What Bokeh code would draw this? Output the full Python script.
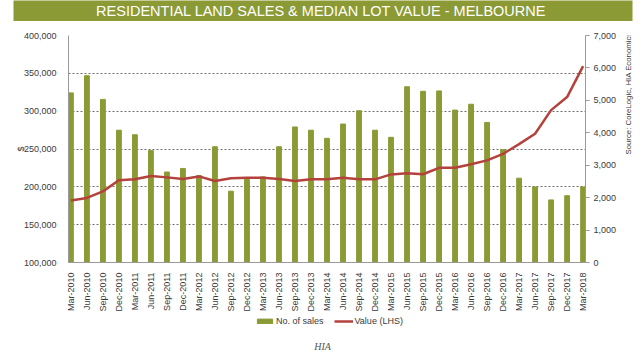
import math
from bokeh.plotting import figure
from bokeh.layouts import column, row
from bokeh.models import (Range1d, LinearAxis, FixedTicker, NumeralTickFormatter,
                          Legend, LegendItem, Label)
from bokeh.embed import file_html
from bokeh.resources import INLINE

quarters = ["Mar-2010", "Jun-2010", "Sep-2010", "Dec-2010",
            "Mar-2011", "Jun-2011", "Sep-2011", "Dec-2011",
            "Mar-2012", "Jun-2012", "Sep-2012", "Dec-2012",
            "Mar-2013", "Jun-2013", "Sep-2013", "Dec-2013",
            "Mar-2014", "Jun-2014", "Sep-2014", "Dec-2014",
            "Mar-2015", "Jun-2015", "Sep-2015", "Dec-2015",
            "Mar-2016", "Jun-2016", "Sep-2016", "Dec-2016",
            "Mar-2017", "Jun-2017", "Sep-2017", "Dec-2017",
            "Mar-2018"]
sales = [5230, 5760, 5030, 4080, 3940, 3450, 2790, 2900, 2680, 3570,
         2200, 2560, 2640, 3570, 4180, 4080, 3830, 4270, 4680, 4080,
         3860, 5420, 5280, 5290, 4700, 4880, 4320, 3480, 2600, 2330,
         1930, 2060, 2330]
value = [181900, 185300, 194000, 208600, 209900, 214200, 212500, 210400,
         213800, 207800, 211200, 212100, 212100, 210400, 207800, 209900,
         209900, 212100, 209900, 209900, 216400, 218100, 216600, 225100,
         225100, 229900, 235000, 243600, 256400, 270100, 301400, 318600,
         359600]
left_ticks = [100000, 150000, 200000, 250000, 300000, 350000, 400000]
right_ticks = [0, 1000, 2000, 3000, 4000, 5000, 6000, 7000]
title_text = "RESIDENTIAL LAND SALES & MEDIAN LOT VALUE - MELBOURNE"
source_text = "Source: CoreLogic, HIA Economics"
footer_text = "HIA"
series_names = ["No. of sales", "Value (LHS)"]

GREEN = "#8b9a34"
RED = "#b5413c"
TXT = "#3a3a3a"
FONT = "Liberation Sans"

xs = list(range(len(quarters)))


def bare(fig):
    fig.outline_line_color = None
    fig.grid.visible = False
    fig.background_fill_color = "white"
    fig.border_fill_color = "white"
    return fig


# ---- title band
tf = figure(width=640, height=21, output_backend="svg", toolbar_location=None,
            x_axis_location=None, y_axis_location=None,
            x_range=Range1d(0, 1), y_range=Range1d(0, 1),
            min_border_left=13, min_border_right=8, min_border_top=0,
            min_border_bottom=0)
bare(tf)
tf.background_fill_color = GREEN
tf.add_layout(Label(x=0.497, y=0.5, text=title_text, text_align="center",
                    text_baseline="middle", text_color="white",
                    text_font=FONT, text_font_size="14.5px"))

# ---- main chart
p = figure(width=624, height=293, output_backend="svg", toolbar_location=None,
           x_range=Range1d(-0.15, len(quarters) - 1 + 0.15),
           y_range=Range1d(100000, 400000),
           min_border_left=68, min_border_right=39, min_border_top=14,
           min_border_bottom=47)
p.outline_line_color = None
p.background_fill_color = "white"
p.border_fill_color = "white"
p.extra_y_ranges = {"sales": Range1d(0, 7000)}

p.xgrid.grid_line_color = None
p.ygrid.ticker = FixedTicker(ticks=left_ticks)
p.ygrid.grid_line_color = "#6e6e6e"
p.ygrid.grid_line_dash = "2 2"
p.ygrid.grid_line_width = 1

p.vbar(x=xs, top=sales, bottom=0, width=0.3, color=GREEN, y_range_name="sales")
p.line(x=xs, y=value, line_color=RED, line_width=2.5)

ya = p.yaxis[0]
ya.ticker = FixedTicker(ticks=left_ticks)
ya.formatter = NumeralTickFormatter(format="0,0")
ya.axis_line_color = "#9a9a9a"
ya.major_tick_line_color = None
ya.minor_tick_line_color = None
ya.major_label_text_font = FONT
ya.major_label_text_font_size = "9px"
ya.major_label_text_color = TXT
ya.major_label_standoff = 6
ya.axis_label = "$"
ya.axis_label_text_font = FONT
ya.axis_label_text_font_style = "normal"
ya.axis_label_text_font_size = "9px"
ya.axis_label_text_color = TXT
ya.axis_label_standoff = -5

ra = LinearAxis(y_range_name="sales", ticker=FixedTicker(ticks=right_ticks),
                formatter=NumeralTickFormatter(format="0,0"))
ra.axis_line_color = "#9a9a9a"
ra.major_tick_line_color = "#9a9a9a"
ra.major_tick_in = 0
ra.major_tick_out = 4
ra.minor_tick_line_color = None
ra.major_label_text_font = FONT
ra.major_label_text_font_size = "9px"
ra.major_label_text_color = TXT
ra.major_label_standoff = 4
p.add_layout(ra, "right")

xa = p.xaxis[0]
xa.ticker = FixedTicker(ticks=xs)
xa.major_label_overrides = {i: q for i, q in enumerate(quarters)}
xa.major_label_orientation = math.pi / 2
xa.axis_line_color = "#9a9a9a"
xa.major_tick_line_color = None
xa.minor_tick_line_color = None
xa.major_label_text_font = FONT
xa.major_label_text_font_size = "9px"
xa.major_label_text_color = TXT
xa.major_label_standoff = 4

# ---- source note strip (right); its frame is aligned with the main frame
sf = figure(width=16, height=293, output_backend="svg", toolbar_location=None,
            x_axis_location=None, y_axis_location=None,
            x_range=Range1d(0, 1), y_range=Range1d(0, 1),
            min_border=0)
bare(sf)
sf.add_layout(Label(x=4, y=108, x_units="screen", y_units="screen",
                    text=source_text, angle=math.pi / 2, text_align="left",
                    text_baseline="middle", text_color=TXT, text_font=FONT,
                    text_font_size="7.8px"))

# ---- legend + footer strip (bottom); frame aligned with the title band
bf = figure(width=640, height=38, output_backend="svg", toolbar_location=None,
            x_axis_location=None, y_axis_location=None,
            x_range=Range1d(0, 1), y_range=Range1d(0, 1),
            min_border_left=13, min_border_right=8, min_border_top=0,
            min_border_bottom=0)
bare(bf)
kb = bf.vbar(x=xs, top=sales, width=0.3, color=GREEN, visible=False)
kl = bf.line(x=xs, y=value, line_color=RED, line_width=2.5, visible=False)
legend = Legend(items=[LegendItem(label=series_names[0], renderers=[kb]),
                       LegendItem(label=series_names[1], renderers=[kl])],
                orientation="horizontal", location=(242, 26),
                glyph_width=19, glyph_height=6, label_height=10,
                label_standoff=2, spacing=10, padding=0, margin=0,
                label_text_font=FONT, label_text_font_size="9px",
                label_text_color=TXT, border_line_alpha=0,
                background_fill_alpha=0, inactive_fill_alpha=0)
bf.add_layout(legend, "center")
bf.add_layout(Label(x=309, y=6, x_units="screen", y_units="screen",
                    text=footer_text, text_align="center",
                    text_baseline="middle", text_color="#555555",
                    text_font="Liberation Serif", text_font_style="italic",
                    text_font_size="10px"))

layout = column(tf, row(p, sf, spacing=0), bf, spacing=0)
open("out.html", "w").write(file_html(layout, INLINE))
